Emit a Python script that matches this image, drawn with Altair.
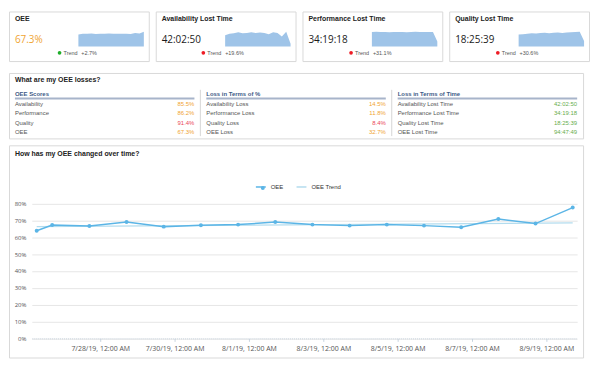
import altair as alt
import pandas as pd

# ---------------- data ----------------
card_titles = ["OEE", "Availability Lost Time", "Performance Lost Time", "Quality Lost Time"]
card_values = ["67.3%", "42:02:50", "34:19:18", "18:25:39"]
card_trends = ["+2.7%", "+19.6%", "+31.1%", "+30.6%"]
card_trend_good = [True, False, False, False]

oee_dates = [
    "2019-07-26T07:00:00", "2019-07-26T17:00:00", "2019-07-27T17:00:00", "2019-07-28T17:00:00",
    "2019-07-29T17:00:00", "2019-07-30T17:00:00", "2019-07-31T17:00:00", "2019-08-01T17:00:00",
    "2019-08-02T17:00:00", "2019-08-03T17:00:00", "2019-08-04T17:00:00", "2019-08-05T17:00:00",
    "2019-08-06T17:00:00", "2019-08-07T17:00:00", "2019-08-08T17:00:00", "2019-08-09T17:00:00",
]
oee_values = [0.639, 0.673, 0.667, 0.690, 0.663, 0.671, 0.675, 0.690,
              0.675, 0.669, 0.675, 0.669, 0.659, 0.708, 0.681, 0.776]
trend_dates = ["2019-07-26T07:00:00", "2019-08-09T17:00:00"]
trend_values = [0.663, 0.685]

spark_availability = [2.4, 2.7, 2.8, 3.0, 2.8, 2.85, 3.0, 2.85, 2.95, 2.85, 2.6, 3.0, 2.85, 2.1, 3.1, 0.6]
spark_performance = [2.3, 2.35, 2.3, 2.32, 2.28, 2.33, 2.3, 2.31, 2.27, 2.3, 2.34, 2.3, 2.31, 2.33, 2.32, 0.8]
spark_quality = [0.98, 1.0, 1.04, 1.08, 1.06, 1.1, 1.12, 1.09, 1.12, 1.14, 1.11, 1.14, 1.16, 1.18, 1.2, 0.45]
sparks = [oee_values, spark_availability, spark_performance, spark_quality]

losses_title = "What are my OEE losses?"
table_headers = ["OEE Scores", "Loss in Terms of %", "Loss in Terms of Time"]
score_labels = ["Availability", "Performance", "Quality", "OEE"]
score_values = ["85.5%", "86.2%", "91.4%", "67.3%"]
score_status = ["warn", "warn", "bad", "warn"]
lossp_labels = ["Availability Loss", "Performance Loss", "Quality Loss", "OEE Loss"]
lossp_values = ["14.5%", "11.8%", "8.4%", "32.7%"]
lossp_status = ["warn", "warn", "bad", "warn"]
losst_labels = ["Availability Lost Time", "Performance Lost Time", "Quality Lost Time", "OEE Lost Time"]
losst_values = ["42:02:50", "34:19:18", "18:25:39", "94:47:49"]
losst_status = ["good", "good", "good", "good"]

trend_title = "How has my OEE changed over time?"
tick_days = [(7, 28), (7, 30), (8, 1), (8, 3), (8, 5), (8, 7), (8, 9)]

# ---------------- styles ----------------
FONT = "Liberation Sans"
NUM_FONT = "Open Sans"
TITLE_COLOR = "#222222"
LABEL_COLOR = "#555555"
ORANGE = "#f0a432"
RED = "#ea4658"
GREEN = "#68ad4c"
SPARK = "#9fc4e8"
LINE = "#5bb5e6"
TREND = "#b3dcee"

CARD_W, CARD_H = 141, 50
PANEL_W = 579


def card(k):
    vals = sparks[k]
    one = pd.DataFrame({"title": [card_titles[k]], "value": [card_values[k]], "trend": [card_trends[k]]})
    base = alt.Chart(one)
    dotx = [51, 48, 49, 49][k]
    title = base.mark_text(align="left", baseline="middle", font=FONT, fontSize=7,
                           fontWeight="bold", color=TITLE_COLOR).encode(
        x=alt.value(6), y=alt.value(7.5), text="title:N")
    value = base.mark_text(align="left", baseline="middle", font=NUM_FONT, fontSize=10,
                           color=ORANGE if k == 0 else "#1a1a1a").encode(
        x=alt.value(6), y=alt.value(29), text="value:N")
    sdf = pd.DataFrame({"i": list(range(len(vals))), "v": vals})
    spark = alt.Chart(sdf).mark_area(color=SPARK, opacity=1).encode(
        x=alt.X("i:Q", axis=None,
                scale=alt.Scale(domain=[0, len(vals) - 1], range=[70, 136], nice=False, zero=False)),
        y=alt.Y("v:Q", axis=None,
                scale=alt.Scale(domain=[0, max(vals)], range=[35.3, 20.5], nice=False)))
    dot = base.mark_circle(size=14, opacity=1,
                           color="#1fae2a" if card_trend_good[k] else "#ee1c25").encode(
        x=alt.value(dotx), y=alt.value(41.7))
    tl = base.mark_text(text="Trend", align="left", baseline="middle", font=FONT,
                        fontSize=5.5, color=LABEL_COLOR).encode(x=alt.value(dotx + 4), y=alt.value(41.7))
    tv = base.mark_text(align="left", baseline="middle", font=FONT, fontSize=5.5,
                        color=LABEL_COLOR).encode(x=alt.value(dotx + 22), y=alt.value(41.7), text="trend:N")
    return alt.layer(title, value, spark, dot, tl, tv).properties(width=CARD_W, height=CARD_H)


cards_row = alt.hconcat(*[card(k) for k in range(4)], spacing=5)

# ---------------- losses table ----------------
rows = []
for c, (labs, vals, sts) in enumerate([(score_labels, score_values, score_status),
                                       (lossp_labels, lossp_values, lossp_status),
                                       (losst_labels, losst_values, losst_status)]):
    for r in range(4):
        rows.append({"col": c, "row": r, "label": labs[r], "value": vals[r], "status": sts[r]})
tbl = pd.DataFrame(rows)
hdr = pd.DataFrame({"col": [0, 1, 2], "header": table_headers})

xscale = alt.Scale(domain=[0, 2], range=[6, 392], nice=False, zero=False)
xs = alt.X("col:Q", axis=None, scale=xscale)
ys = alt.Y("row:Q", axis=None, scale=alt.Scale(domain=[0, 3], range=[31, 59.7], nice=False, zero=False))

t_title = alt.Chart(pd.DataFrame({"t": [losses_title]})).mark_text(
    align="left", baseline="middle", font=FONT, fontSize=7, fontWeight="bold", color=TITLE_COLOR
).encode(x=alt.value(6), y=alt.value(7), text="t:N")
t_labels = alt.Chart(tbl).mark_text(align="left", baseline="middle", font=FONT, fontSize=6,
                                    color=LABEL_COLOR).encode(x=xs, y=ys, text="label:N")
t_values = alt.Chart(tbl).mark_text(align="right", baseline="middle", dx=181, font=FONT,
                                    fontSize=6).encode(
    x=xs, y=ys, text="value:N",
    color=alt.Color("status:N", legend=None,
                    scale=alt.Scale(domain=["warn", "bad", "good"], range=[ORANGE, RED, GREEN])))
t_headers = alt.Chart(hdr).mark_text(align="left", baseline="middle", font=FONT, fontSize=6,
                                     fontWeight="bold", color="#3d5a86").encode(
    x=xs, y=alt.value(21), text="header:N")
t_under = alt.Chart(hdr).transform_calculate(col_end="datum.col + 0.938").mark_rule(
    color="#a7b4ca", strokeWidth=2).encode(x=xs, x2="col_end:Q", y=alt.value(25.7))
t_div = alt.Chart(hdr).transform_filter("datum.col > 0").transform_calculate(
    div_x="datum.col - 0.031").mark_rule(color="#d6d6d6").encode(
    x=alt.X("div_x:Q", axis=None, scale=xscale), y=alt.value(17), y2=alt.value(63.7))

middle = alt.layer(t_title, t_div, t_under, t_headers, t_labels, t_values).properties(
    width=PANEL_W, height=66)

# ---------------- trend chart ----------------
oee_df = pd.DataFrame({"date": oee_dates, "oee": oee_values, "series": "OEE", "marker": "OEE"})
trend_df = pd.DataFrame({"date": trend_dates, "oee": trend_values, "series": "OEE Trend"})

x_enc = alt.X(
    "date:T",
    scale=alt.Scale(domain=[alt.DateTime(year=2019, month=7, date=26, hours=3, minutes=50),
                            alt.DateTime(year=2019, month=8, date=9, hours=19, minutes=51)],
                    range=[23, 573], nice=False),
    axis=alt.Axis(values=[alt.DateTime(year=2019, month=m, date=d) for m, d in tick_days],
                  format="%-m/%-d/%y, %I:%M %p", offset=-19.3, grid=False, title=None,
                  domainColor="#c7d3df", domainDash=[1, 1], tickColor="#c7d3df", tickSize=3,
                  labelFont=NUM_FONT, labelFontSize=7, labelColor=LABEL_COLOR, labelPadding=3),
)
y_enc = alt.Y(
    "oee:Q",
    scale=alt.Scale(domain=[0, 0.8], range=[194.7, 58.7], nice=False, zero=True),
    axis=alt.Axis(values=[i / 10 for i in range(9)], format=".0%", offset=-23, domain=False,
                  ticks=False, title=None, labelPadding=6, labelFont=NUM_FONT, labelFontSize=6,
                  labelColor=LABEL_COLOR, gridColor="#e6e6e6"),
)
LEG_X, LEG_Y = 248, 36
color_enc = alt.Color(
    "series:N",
    scale=alt.Scale(domain=["OEE", "OEE Trend"], range=[LINE, TREND]),
    legend=alt.Legend(orient="none", legendX=LEG_X, legendY=LEG_Y, direction="horizontal",
                      title=None, labelFont=FONT, labelFontSize=6, labelColor="#333333",
                      symbolType="stroke", symbolSize=100, symbolStrokeWidth=1.5,
                      columnPadding=10, labelOffset=4, zindex=1),
)
shape_enc = alt.Shape(
    "marker:N",
    scale=alt.Scale(domain=["OEE"], range=["circle"]),
    legend=alt.Legend(orient="none", legendX=LEG_X + 3, legendY=LEG_Y + 2, title=None,
                      labelExpr="''", symbolSize=16, symbolFillColor=LINE,
                      symbolStrokeColor=LINE, symbolStrokeWidth=0, zindex=2),
)

b_title = alt.Chart(pd.DataFrame({"t": [trend_title]})).mark_text(
    align="left", baseline="middle", font=FONT, fontSize=7, fontWeight="bold", color=TITLE_COLOR
).encode(x=alt.value(6), y=alt.value(8.7), text="t:N")
trend_line = alt.Chart(trend_df).mark_line(strokeWidth=1.2).encode(x=x_enc, y=y_enc, color=color_enc)
oee_line = alt.Chart(oee_df).mark_line(strokeWidth=1.5).encode(x=x_enc, y=y_enc, color=color_enc)
oee_pts = alt.Chart(oee_df).mark_point(filled=True, size=16, opacity=1, color=LINE).encode(
    x=x_enc, y=y_enc, shape=shape_enc)

bottom = alt.layer(b_title, trend_line, oee_line, oee_pts).properties(width=PANEL_W, height=214)

lower = alt.vconcat(middle, bottom, spacing=5).resolve_scale(color="independent", shape="independent")
chart = alt.vconcat(cards_row, lower, spacing=10).resolve_scale(
    color="independent", shape="independent").properties(
    padding={"left": 0, "top": 1, "right": 2, "bottom": 2}, background="white"
).configure(font=FONT, view=alt.ViewConfig(stroke="#d9d9d9", strokeWidth=1))

chart.save("out.html", embed_options={"renderer": "svg", "actions": False})
